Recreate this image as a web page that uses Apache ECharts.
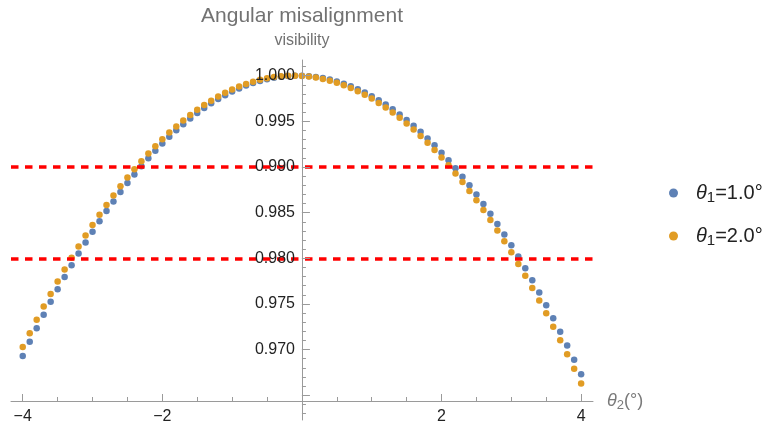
<!DOCTYPE html>
<html>
<head>
<meta charset="utf-8">
<script src="https://cdn.jsdelivr.net/npm/echarts@6/dist/echarts.min.js"></script>
<style>
  html, body { margin: 0; padding: 0; background: #ffffff; }
  #chart { width: 771px; height: 427px; }
</style>
</head>
<body>
<div id="chart"></div>
<script>
// θ2 sample angles (degrees)
const theta2 = [
  -4.0, -3.9, -3.8, -3.7, -3.6, -3.5, -3.4, -3.3, -3.2, -3.1,
  -3.0, -2.9, -2.8, -2.7, -2.6, -2.5, -2.4, -2.3, -2.2, -2.1,
  -2.0, -1.9, -1.8, -1.7, -1.6, -1.5, -1.4, -1.3, -1.2, -1.1,
  -1.0, -0.9, -0.8, -0.7, -0.6, -0.5, -0.4, -0.3, -0.2, -0.1,
   0.0,  0.1,  0.2,  0.3,  0.4,  0.5,  0.6,  0.7,  0.8,  0.9,
   1.0,  1.1,  1.2,  1.3,  1.4,  1.5,  1.6,  1.7,  1.8,  1.9,
   2.0,  2.1,  2.2,  2.3,  2.4,  2.5,  2.6,  2.7,  2.8,  2.9,
   3.0,  3.1,  3.2,  3.3,  3.4,  3.5,  3.6,  3.7,  3.8,  3.9,
   4.0
];

// visibility for θ1 = 1.0°
const visTheta1a = [
  0.96931, 0.97085, 0.97235, 0.97381, 0.97523, 0.97661, 0.97795, 0.97925, 0.98052, 0.98174,
  0.98292, 0.98406, 0.98517, 0.98623, 0.98726, 0.98824, 0.98919, 0.99009, 0.99096, 0.99178,
  0.99257, 0.99332, 0.99403, 0.99469, 0.99532, 0.99591, 0.99646, 0.99697, 0.99744, 0.99787,
  0.99826, 0.99861, 0.99892, 0.99920, 0.99943, 0.99962, 0.99978, 0.99989, 0.99996, 1.00000,
  0.99999, 0.99995, 0.99986, 0.99974, 0.99958, 0.99937, 0.99913, 0.99885, 0.99853, 0.99816,
  0.99776, 0.99732, 0.99684, 0.99632, 0.99576, 0.99516, 0.99452, 0.99385, 0.99313, 0.99237,
  0.99157, 0.99074, 0.98986, 0.98894, 0.98799, 0.98699, 0.98596, 0.98488, 0.98377, 0.98262,
  0.98142, 0.98019, 0.97892, 0.97761, 0.97626, 0.97486, 0.97343, 0.97196, 0.97045, 0.96890,
  0.96731
];

// visibility for θ1 = 2.0°
const visTheta1b = [
  0.97028, 0.97180, 0.97327, 0.97471, 0.97610, 0.97746, 0.97878, 0.98005, 0.98129, 0.98249,
  0.98365, 0.98476, 0.98584, 0.98688, 0.98788, 0.98884, 0.98976, 0.99064, 0.99148, 0.99228,
  0.99305, 0.99377, 0.99445, 0.99509, 0.99570, 0.99626, 0.99679, 0.99727, 0.99772, 0.99812,
  0.99849, 0.99881, 0.99910, 0.99935, 0.99956, 0.99972, 0.99985, 0.99994, 0.99999, 1.00000,
  0.99997, 0.99990, 0.99979, 0.99964, 0.99945, 0.99922, 0.99896, 0.99865, 0.99830, 0.99792,
  0.99749, 0.99702, 0.99652, 0.99597, 0.99539, 0.99477, 0.99410, 0.99340, 0.99266, 0.99187,
  0.99105, 0.99019, 0.98929, 0.98835, 0.98737, 0.98635, 0.98529, 0.98419, 0.98305, 0.98187,
  0.98065, 0.97939, 0.97810, 0.97676, 0.97538, 0.97397, 0.97251, 0.97102, 0.96948, 0.96791,
  0.96629
];

// reference visibility levels (dashed red)
const thresholds = [0.990, 0.980];

// axis ticks
const xMajorTicks = [-4, -2, 0, 2, 4];
const xTickLabels = [-4, -2, 2, 4];
const xMinorTicks = [-4, -3.5, -3, -2.5, -2, -1.5, -1, -0.5, 0, 0.5, 1, 1.5, 2, 2.5, 3, 3.5, 4];
const yMajorTicks = [0.965, 0.970, 0.975, 0.980, 0.985, 0.990, 0.995, 1.000];
const yTickLabels = [0.970, 0.975, 0.980, 0.985, 0.990, 0.995, 1.000];
const yMinorTicks = [
  0.963, 0.964, 0.965, 0.966, 0.967, 0.968, 0.969, 0.970, 0.971, 0.972, 0.973, 0.974,
  0.975, 0.976, 0.977, 0.978, 0.979, 0.980, 0.981, 0.982, 0.983, 0.984, 0.985, 0.986,
  0.987, 0.988, 0.989, 0.990, 0.991, 0.992, 0.993, 0.994, 0.995, 0.996, 0.997, 0.998,
  0.999, 1.000, 1.001
];

const seriesNames = ['a', 'b'];
const legendLabels = {
  a: '{t|θ}{s|1}{n|=1.0°}',
  b: '{t|θ}{s|1}{n|=2.0°}'
};

const FONT = '"Liberation Sans", Arial, sans-serif';
const AXIS_GRAY = '#9a9a9a';
const LABEL_COLOR = '#222222';
const BLUE = '#5E81B5';
const ORANGE = '#E19C24';

const GRID_LEFT = 11, GRID_WIDTH = 582;
const X_MIN = -4.168, X_MAX = 4.17;
const Y_MIN = 0.96229, Y_MAX = 1.00172;
// the vertical axis is drawn through θ2 = 0
const Y_AXIS_SHIFT = -GRID_WIDTH * (0 - X_MIN) / (X_MAX - X_MIN);

const pairs = (xs, ys) => xs.map((x, i) => [x, ys[i]]);
const minus = v => (v < 0 ? '\u2212' + Math.abs(v) : String(v));

const chart = echarts.init(document.getElementById('chart'), null, { renderer: 'canvas' });

chart.setOption({
  backgroundColor: '#ffffff',
  animation: false,
  textStyle: { fontFamily: FONT },
  graphic: [
    {
      type: 'text', x: 302, y: 16,
      style: {
        text: 'Angular misalignment', fill: '#727272',
        font: '21px ' + FONT, textAlign: 'center', textVerticalAlign: 'middle'
      }
    },
    {
      type: 'text', x: 302, y: 41,
      style: {
        text: 'visibility', fill: '#727272',
        font: '16px ' + FONT, textAlign: 'center', textVerticalAlign: 'middle'
      }
    }
  ],
  grid: [
    // plotting area; vertical axis runs down to y = 420
    { left: GRID_LEFT, top: 60, width: GRID_WIDTH, height: 360, containLabel: false, outerBoundsMode: 'none' },
    // horizontal axis sits at y = 401
    { left: GRID_LEFT, top: 60, width: GRID_WIDTH, height: 341, containLabel: false, outerBoundsMode: 'none' }
  ],
  xAxis: [
    { gridIndex: 0, type: 'value', min: X_MIN, max: X_MAX, show: false },
    {
      gridIndex: 1, type: 'value', min: X_MIN, max: X_MAX, position: 'bottom',
      axisLine: { onZero: false, lineStyle: { color: AXIS_GRAY, width: 1 } },
      axisTick: { inside: true, length: 7, customValues: xMajorTicks, lineStyle: { color: AXIS_GRAY } },
      axisLabel: {
        customValues: xTickLabels, formatter: minus, margin: 8,
        color: LABEL_COLOR, fontSize: 16, fontFamily: FONT
      },
      splitLine: { show: false },
      name: '{t|θ}{s|2}{n|(°)}', nameLocation: 'end', nameGap: 14,
      nameTextStyle: {
        rich: {
          t: { fontSize: 18, fontStyle: 'italic', color: '#7a7a7a', fontFamily: FONT, lineHeight: 22 },
          s: { fontSize: 13, color: '#7a7a7a', fontFamily: FONT, verticalAlign: 'bottom', lineHeight: 14 },
          n: { fontSize: 18, color: '#7a7a7a', fontFamily: FONT, lineHeight: 22 }
        }
      }
    },
    {
      gridIndex: 1, type: 'value', min: X_MIN, max: X_MAX, position: 'bottom',
      axisLine: { show: false, onZero: false },
      axisTick: { inside: true, length: 4, customValues: xMinorTicks, lineStyle: { color: AXIS_GRAY } },
      axisLabel: { show: false },
      splitLine: { show: false }
    }
  ],
  yAxis: [
    {
      gridIndex: 0, type: 'value', min: Y_MIN, max: Y_MAX, z: 5,
      position: 'left', offset: Y_AXIS_SHIFT,
      axisLine: { onZero: false, lineStyle: { color: AXIS_GRAY, width: 1 } },
      axisTick: { inside: true, length: 8, customValues: yMajorTicks, lineStyle: { color: AXIS_GRAY } },
      axisLabel: {
        customValues: yTickLabels, formatter: v => v.toFixed(3), margin: 7,
        color: LABEL_COLOR, fontSize: 16, fontFamily: FONT
      },
      splitLine: { show: false }
    },
    {
      gridIndex: 0, type: 'value', min: Y_MIN, max: Y_MAX, z: 5,
      position: 'left', offset: Y_AXIS_SHIFT,
      axisLine: { show: false, onZero: false },
      axisTick: { inside: true, length: 4, customValues: yMinorTicks, lineStyle: { color: AXIS_GRAY } },
      axisLabel: { show: false },
      splitLine: { show: false }
    },
    { gridIndex: 1, type: 'value', min: 0, max: 1, show: false }
  ],
  legend: {
    data: seriesNames,
    orient: 'vertical',
    left: 664, top: 178,
    itemGap: 21,
    itemWidth: 9, itemHeight: 9,
    icon: 'circle',
    formatter: name => legendLabels[name],
    textStyle: {
      padding: [0, 0, 0, 13],
      rich: {
        t: { fontSize: 20, fontStyle: 'italic', color: LABEL_COLOR, fontFamily: FONT, lineHeight: 24 },
        s: { fontSize: 15, color: LABEL_COLOR, fontFamily: FONT, verticalAlign: 'bottom', lineHeight: 14 },
        n: { fontSize: 20, color: LABEL_COLOR, fontFamily: FONT, lineHeight: 24 }
      }
    }
  },
  series: [
    {
      name: 'levels', type: 'scatter', xAxisIndex: 0, yAxisIndex: 0, data: [],
      markLine: {
        silent: true, symbol: 'none', animation: false,
        label: { show: false },
        lineStyle: { color: '#ff0000', width: 3.5, type: [7.5, 6.5] },
        data: thresholds.map(v => ({ yAxis: v }))
      }
    },
    {
      name: 'a', type: 'scatter', xAxisIndex: 0, yAxisIndex: 0,
      symbolSize: 6.5, itemStyle: { color: BLUE, opacity: 1 },
      data: pairs(theta2, visTheta1a)
    },
    {
      name: 'b', type: 'scatter', xAxisIndex: 0, yAxisIndex: 0,
      symbolSize: 6.5, itemStyle: { color: ORANGE, opacity: 1 },
      data: pairs(theta2, visTheta1b)
    }
  ]
});
</script>
</body>
</html>
